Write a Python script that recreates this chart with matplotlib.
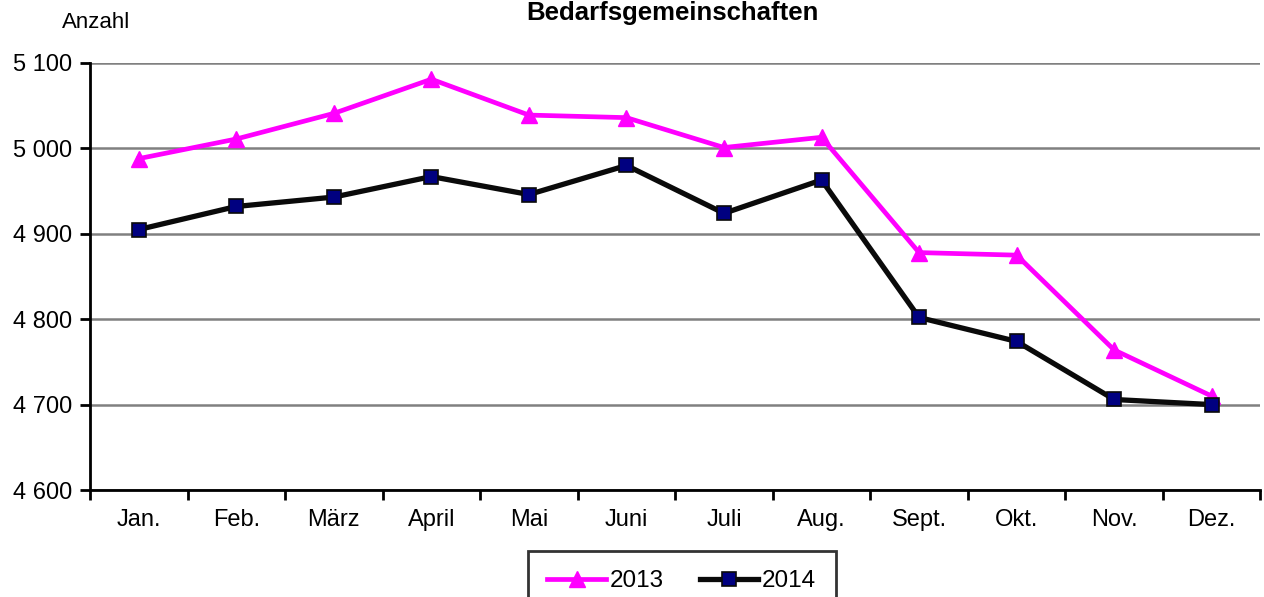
import matplotlib.pyplot as plt
from matplotlib.ticker import FuncFormatter

plt.rcParams['font.family'] = ['Liberation Sans', 'DejaVu Sans']

# data
months = ['Jan.', 'Feb.', 'März', 'April', 'Mai', 'Juni', 'Juli', 'Aug.', 'Sept.', 'Okt.', 'Nov.', 'Dez.']
values_2013 = [4988, 5011, 5041, 5081, 5039, 5036, 5001, 5013, 4878, 4875, 4764, 4710]
values_2014 = [4905, 4932, 4943, 4967, 4946, 4980, 4924, 4963, 4802, 4774, 4706, 4700]
y_ticks = [4600, 4700, 4800, 4900, 5000, 5100]

fig = plt.figure(figsize=(12.64, 5.97), dpi=100)
ax = fig.add_axes([0.0712, 0.1792, 0.926, 0.7153])

x = list(range(len(months)))
ax.plot(x, values_2013, color='#ff00ff', linewidth=3.4, marker='^', markersize=11,
        markerfacecolor='#ff00ff', markeredgecolor='#ff00ff', label='2013', zorder=3)
ax.plot(x, values_2014, color='#0a0a0a', linewidth=3.8, marker='s', markersize=10.5,
        markerfacecolor='#000080', markeredgecolor='#0a0a0a', markeredgewidth=1.2,
        label='2014', zorder=4)

ax.set_xlim(-0.5, len(months) - 0.5)
ax.set_ylim(4600, 5100)
ax.set_yticks(y_ticks)
ax.yaxis.set_major_formatter(FuncFormatter(lambda v, p: f'{int(v):,}'.replace(',', ' ')))
ax.grid(axis='y', color='#808080', linewidth=1.8, zorder=0)

# ticks between categories, labels centred
ax.set_xticks([i - 0.5 for i in range(len(months) + 1)])
ax.set_xticklabels([])
ax.set_xticks(x, minor=True)
ax.set_xticklabels(months, minor=True)
ax.tick_params(axis='x', which='major', length=7, width=2, direction='out')
ax.tick_params(axis='x', which='minor', length=0, pad=14, labelsize=17)
ax.tick_params(axis='y', length=7, width=2, direction='out', labelsize=17, pad=6)

for s in ['top', 'right']:
    ax.spines[s].set_visible(False)
for s in ['left', 'bottom']:
    ax.spines[s].set_linewidth(2)
    ax.spines[s].set_zorder(5)

# title sits right at the top edge, kept just inside
fig.text(0.532, 0.966, 'Bedarfsgemeinschaften', ha='center', va='baseline',
         fontsize=18.5, fontweight='bold')
fig.text(0.049, 0.962, 'Anzahl', ha='left', va='center', fontsize=16)

leg = fig.legend(loc='upper left', bbox_to_anchor=(0.4177, 0.0771), ncol=2,
                 fontsize=17.5, frameon=True, fancybox=False, handlelength=2.4,
                 handletextpad=0.15, columnspacing=1.5, borderpad=0.8,
                 borderaxespad=0)
leg.get_frame().set_edgecolor('black')
leg.get_frame().set_linewidth(2)

fig.savefig('out.png', dpi=100)
